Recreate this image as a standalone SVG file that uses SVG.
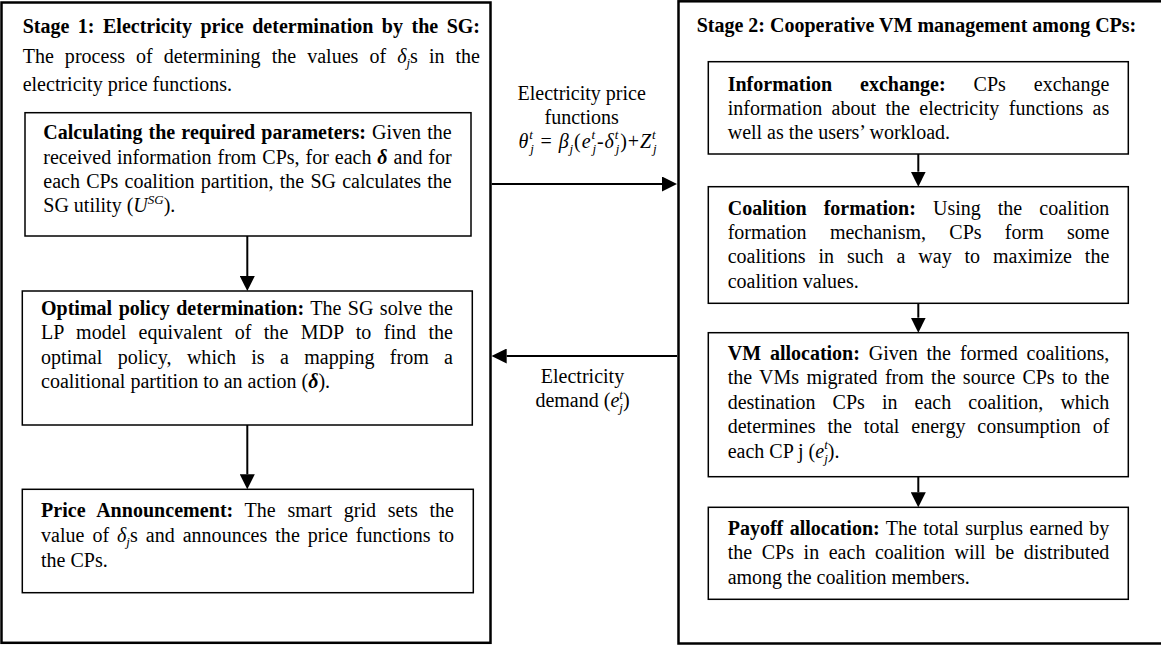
<svg xmlns="http://www.w3.org/2000/svg" width="1161" height="647" viewBox="0 0 1161 647">
<style>
.t{font-family:"Liberation Serif","Times New Roman",serif;font-size:20px;fill:#000}
.b{font-weight:bold}
.m{font-style:italic}
.s{font-size:13px}
.outer{fill:#fff;stroke:#000;stroke-width:2.5}
.box{fill:#fff;stroke:#000;stroke-width:1.5}
.c{stroke:#000;stroke-width:2;fill:none}
</style>
<defs>
<marker id="ah" markerUnits="userSpaceOnUse" markerWidth="15" markerHeight="15" refX="0" refY="7.5" orient="auto">
<path d="M0,0 L15,7.5 L0,15 Z" fill="#000"/>
</marker>
</defs>
<rect width="1161" height="647" fill="#fff"/>

<g id="stage1">
<rect class="outer" x="1.5" y="2.5" width="489" height="640.3"/>
<text class="t b" x="22.7" y="32.5" textLength="457.3" lengthAdjust="spacing" style="word-spacing:3.5px">Stage 1: Electricity price determination by the SG:</text>
<text class="t" x="22.7" y="63" textLength="457.3" lengthAdjust="spacing" style="word-spacing:6px">The process of determining the values of <tspan class="m">δ</tspan><tspan class="m s" dy="4">j</tspan><tspan dy="-4">s in the</tspan></text>
<text class="t" x="22.7" y="91">electricity price functions.</text>
</g>

<g id="stage2">
<rect class="outer" x="678.5" y="1.3" width="490" height="642.2"/>
<text class="t b" x="696.7" y="31.5">Stage 2: Cooperative VM management among CPs:</text>
</g>

<g id="calc">
<rect class="box" x="25" y="112.7" width="446" height="123.3"/>
<text class="t" x="43.3" y="139.3" textLength="408.4" lengthAdjust="spacing" style="word-spacing:1.1px"><tspan class="b">Calculating the required parameters:</tspan> Given the</text>
<text class="t" x="43.3" y="164.3" textLength="408.4" lengthAdjust="spacing" style="word-spacing:0.9px">received information from CPs, for each <tspan class="b m">δ</tspan> and for</text>
<text class="t" x="43.3" y="188.3" textLength="408.4" lengthAdjust="spacing" style="word-spacing:1.2px">each CPs coalition partition, the SG calculates the</text>
<text class="t" x="43.3" y="212.3">SG utility (<tspan class="m">U</tspan><tspan class="m s" dy="-8">SG</tspan><tspan dy="8">).</tspan></text>
</g>

<g id="optimal">
<rect class="box" x="22.3" y="291" width="450" height="134"/>
<text class="t" x="41" y="315" textLength="412" lengthAdjust="spacing" style="word-spacing:1.45px"><tspan class="b">Optimal policy determination:</tspan> The SG solve the</text>
<text class="t" x="41" y="339.3" textLength="412" lengthAdjust="spacing" style="word-spacing:7.3px">LP model equivalent of the MDP to find the</text>
<text class="t" x="41" y="364" textLength="412" lengthAdjust="spacing" style="word-spacing:10.3px">optimal policy, which is a mapping from a</text>
<text class="t" x="41" y="388.3">coalitional partition to an action (<tspan class="b m">δ</tspan>).</text>
</g>

<g id="announce">
<rect class="box" x="22.3" y="489.3" width="451" height="103.4"/>
<text class="t" x="41" y="516.7" textLength="413" lengthAdjust="spacing" style="word-spacing:6.6px"><tspan class="b">Price Announcement:</tspan> The smart grid sets the</text>
<text class="t" x="41" y="541.7" textLength="413" lengthAdjust="spacing" style="word-spacing:2.9px">value of <tspan class="m">δ</tspan><tspan class="m s" dy="4">j</tspan><tspan dy="-4">s and announces the price functions to</tspan></text>
<text class="t" x="41" y="566.7">the CPs.</text>
</g>

<g id="info">
<rect class="box" x="708.3" y="61.7" width="420" height="92.3"/>
<text class="t" x="727.7" y="90.7" textLength="381.6" lengthAdjust="spacing" style="word-spacing:23px"><tspan class="b">Information exchange:</tspan> CPs exchange</text>
<text class="t" x="727.7" y="115" textLength="381.6" lengthAdjust="spacing" style="word-spacing:4.4px">information about the electricity functions as</text>
<text class="t" x="727.7" y="139">well as the users’ workload.</text>
</g>

<g id="formation">
<rect class="box" x="708.3" y="186.7" width="420" height="116.6"/>
<text class="t" x="727.7" y="215" textLength="381.6" lengthAdjust="spacing" style="word-spacing:12.1px"><tspan class="b">Coalition formation:</tspan> Using the coalition</text>
<text class="t" x="727.7" y="239.3" textLength="381.6" lengthAdjust="spacing" style="word-spacing:18.3px">formation mechanism, CPs form some</text>
<text class="t" x="727.7" y="263.3" textLength="381.6" lengthAdjust="spacing" style="word-spacing:7.9px">coalitions in such a way to maximize the</text>
<text class="t" x="727.7" y="287.5">coalition values.</text>
</g>

<g id="vmalloc">
<rect class="box" x="708.3" y="332.7" width="420" height="144"/>
<text class="t" x="727.7" y="360" textLength="381.6" lengthAdjust="spacing" style="word-spacing:3.9px"><tspan class="b">VM allocation:</tspan> Given the formed coalitions,</text>
<text class="t" x="727.7" y="384.3" textLength="381.6" lengthAdjust="spacing" style="word-spacing:2.3px">the VMs migrated from the source CPs to the</text>
<text class="t" x="727.7" y="408.6" textLength="381.6" lengthAdjust="spacing" style="word-spacing:12.1px">destination CPs in each coalition, which</text>
<text class="t" x="727.7" y="433.3" textLength="381.6" lengthAdjust="spacing" style="word-spacing:6.9px">determines the total energy consumption of</text>
<text class="t" x="727.7" y="458">each CP j (<tspan class="m">e</tspan><tspan class="m s" dy="-9">t</tspan><tspan class="m s" dx="-3.6" dy="14">j</tspan><tspan dy="-5">).</tspan></text>
</g>

<g id="payoff">
<rect class="box" x="708.3" y="507.3" width="420" height="92"/>
<text class="t" x="727.7" y="535" textLength="381.6" lengthAdjust="spacing" style="word-spacing:1.4px"><tspan class="b">Payoff allocation:</tspan> The total surplus earned by</text>
<text class="t" x="727.7" y="559.3" textLength="381.6" lengthAdjust="spacing" style="word-spacing:4.6px">the CPs in each coalition will be distributed</text>
<text class="t" x="727.7" y="583.5">among the coalition members.</text>
</g>

<g id="connectors">
<line class="c" x1="247.3" y1="236" x2="247.3" y2="276" marker-end="url(#ah)"/>
<line class="c" x1="247.3" y1="425" x2="247.3" y2="474.3" marker-end="url(#ah)"/>
<line class="c" x1="918.3" y1="154" x2="918.3" y2="171.7" marker-end="url(#ah)"/>
<line class="c" x1="918.3" y1="303.3" x2="918.3" y2="317.7" marker-end="url(#ah)"/>
<line class="c" x1="918.3" y1="476.7" x2="918.3" y2="492.3" marker-end="url(#ah)"/>
<line class="c" x1="491.7" y1="184" x2="662" y2="184" marker-end="url(#ah)"/>
<line class="c" x1="677" y1="356" x2="506.7" y2="356" marker-end="url(#ah)"/>
<text class="t" x="581.7" y="100" text-anchor="middle">Electricity price</text>
<text class="t" x="581.7" y="123.5" text-anchor="middle">functions</text>
<text class="t" x="518.5" y="148" textLength="138" lengthAdjust="spacing"><tspan class="m">θ</tspan><tspan class="m s" dy="-9">t</tspan><tspan class="m s" dx="-3.6" dy="14">j</tspan><tspan dy="-5"> = </tspan><tspan class="m">β</tspan><tspan class="m s" dy="5">j</tspan><tspan dy="-5">(</tspan><tspan class="m">e</tspan><tspan class="m s" dy="-9">t</tspan><tspan class="m s" dx="-3.6" dy="14">j</tspan><tspan dy="-5">-</tspan><tspan class="m">δ</tspan><tspan class="m s" dy="-9">t</tspan><tspan class="m s" dx="-3.6" dy="14">j</tspan><tspan dy="-5">)+</tspan><tspan class="m">Z</tspan><tspan class="m s" dy="-9">t</tspan><tspan class="m s" dx="-3.6" dy="14">j</tspan></text>
<text class="t" x="582.5" y="383" text-anchor="middle">Electricity</text>
<text class="t" x="582.5" y="407" text-anchor="middle">demand (<tspan class="m">e</tspan><tspan class="m s" dy="-8">t</tspan><tspan class="m s" dx="-3.6" dy="13">j</tspan><tspan dy="-5">)</tspan></text>
</g>
</svg>
